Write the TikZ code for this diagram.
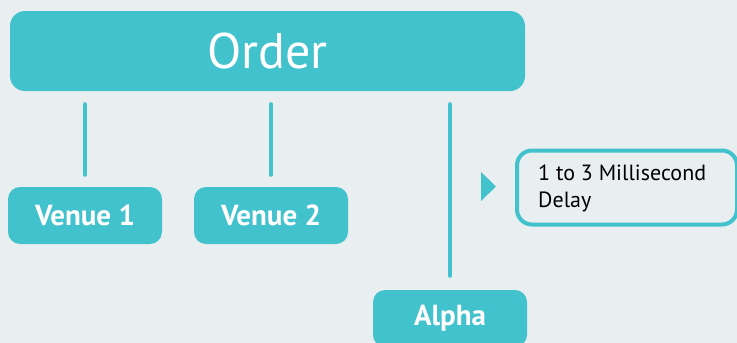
\documentclass[tikz,border=0pt]{standalone}
\usepackage{fontspec}
\setmainfont{PT Sans}
\definecolor{pagebg}{HTML}{E9EEF1}
\definecolor{tealfill}{HTML}{42C2CC}
\begin{document}
\begin{tikzpicture}[x=1pt,y=-1pt,
  headbox/.style={fill=tealfill, rounded corners=15pt, minimum width=515pt, minimum height=80pt,
    text=white, font=\fontsize{50}{50}\selectfont, inner sep=0pt},
  leafbox/.style={fill=tealfill, rounded corners=12pt, minimum width=154pt, minimum height=57pt,
    text=white, font=\bfseries\fontsize{29}{29}\selectfont, inner sep=0pt},
  notebox/.style={draw=tealfill, line width=4pt, fill=pagebg, rounded corners=15pt,
    minimum width=220pt, minimum height=74pt, inner sep=0pt},
  link/.style={draw=tealfill, line width=4pt, line cap=round}]
\useasboundingbox (0,0) rectangle (737,343);
\clip (0,0) rectangle (737,343);
\fill[pagebg] (0,0) rectangle (737,343);

% boxes
\node[headbox] (order) at (267.5,51) {Order};
\node[leafbox] (v1) at (85,215.5) {Venue 1};
\node[leafbox] (v2) at (271,215.5) {Venue 2};
\node[leafbox] (alpha) at (450,318.5) {Alpha};
\node[notebox] (note) at (627,187.5) {};
\node[anchor=west, align=left, font=\fontsize{22}{27}\selectfont, text=black, inner sep=0pt]
  (notetext) at (538,188) {1 to 3 Millisecond\\Delay};

% marker pointing at the note
\coordinate (m1) at (481,172);
\coordinate (m2) at (481,201);
\coordinate (m3) at (496,186.5);
\fill[tealfill] (m1) -- (m3) -- (m2) -- cycle;

% connectors (detached from the boxes)
\draw[link] ([yshift=-13pt]order.south -| v1.north) -- ([yshift=12pt]v1.north);
\draw[link] ([yshift=-13pt]order.south -| v2.north) -- ([yshift=12pt]v2.north);
\draw[link] ([yshift=-13pt]order.south -| alpha.north) -- ([yshift=14pt]alpha.north);
\end{tikzpicture}
\end{document}
